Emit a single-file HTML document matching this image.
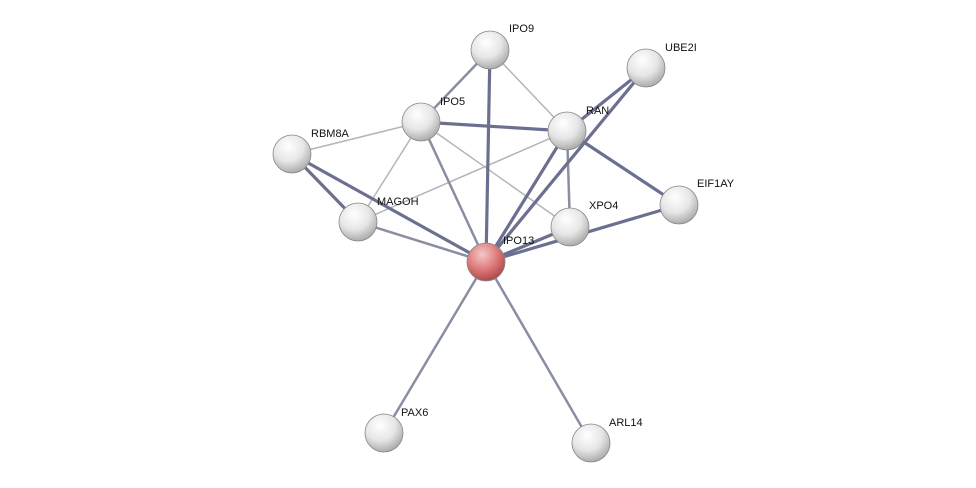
<!DOCTYPE html>
<html><head><meta charset="utf-8"><style>
html,body{margin:0;padding:0;background:#fff;}
svg{display:block;}
text{font-family:"Liberation Sans",sans-serif;font-size:11px;fill:#111;}
</style></head><body>
<svg width="976" height="488" viewBox="0 0 976 488">
<defs>
<radialGradient id="g" cx="0.4" cy="0.3" r="0.8">
<stop offset="0" stop-color="#ffffff"/><stop offset="0.5" stop-color="#e6e6e6"/><stop offset="1" stop-color="#9a9a9a"/>
</radialGradient>
<radialGradient id="r" cx="0.4" cy="0.3" r="0.8">
<stop offset="0" stop-color="#f6c8c8"/><stop offset="0.5" stop-color="#dd7a7a"/><stop offset="1" stop-color="#a03a3a"/>
</radialGradient>
</defs>
<g stroke-linecap="round">
<!-- light edges -->
<g stroke="#b4b4be" stroke-width="1.5">
<line x1="490" y1="50" x2="567" y2="131"/>
<line x1="421" y1="122" x2="292" y2="154"/>
<line x1="421" y1="122" x2="358" y2="222"/>
<line x1="421" y1="122" x2="570" y2="227"/>
<line x1="567" y1="131" x2="358" y2="222"/>
</g>
<g stroke="#8a8ea3" stroke-width="2.5">
<line x1="490" y1="50" x2="421" y2="122"/>
<line x1="567" y1="131" x2="570" y2="227"/>
<line x1="486" y1="262" x2="421" y2="122"/>
<line x1="486" y1="262" x2="358" y2="222"/>
<line x1="486" y1="262" x2="384" y2="433"/>
<line x1="486" y1="262" x2="591" y2="443"/>
</g>
<g stroke="#6b7090" stroke-width="3.2">
<line x1="421" y1="122" x2="567" y2="131"/>
<line x1="490" y1="50" x2="486" y2="262"/>
<line x1="567" y1="131" x2="646" y2="68"/>
<line x1="646" y1="68" x2="486" y2="262"/>
<line x1="567" y1="131" x2="486" y2="262"/>
<line x1="567" y1="131" x2="679" y2="205"/>
<line x1="292" y1="154" x2="358" y2="222"/>
<line x1="292" y1="154" x2="486" y2="262"/>
<line x1="570" y1="227" x2="486" y2="262"/>
<line x1="679" y1="205" x2="486" y2="262"/>
</g>
</g>
<g stroke="#888" stroke-width="0.8">
<circle cx="490" cy="50" r="19" fill="url(#g)"/>
<circle cx="646" cy="68" r="19" fill="url(#g)"/>
<circle cx="421" cy="122" r="19" fill="url(#g)"/>
<circle cx="567" cy="131" r="19" fill="url(#g)"/>
<circle cx="292" cy="154" r="19" fill="url(#g)"/>
<circle cx="358" cy="222" r="19" fill="url(#g)"/>
<circle cx="570" cy="227" r="19" fill="url(#g)"/>
<circle cx="679" cy="205" r="19" fill="url(#g)"/>
<circle cx="486" cy="262" r="19" fill="url(#r)"/>
<circle cx="384" cy="433" r="19" fill="url(#g)"/>
<circle cx="591" cy="443" r="19" fill="url(#g)"/>
</g>
<text x="509" y="32">IPO9</text>
<text x="665" y="51">UBE2I</text>
<text x="440" y="105">IPO5</text>
<text x="586" y="114">RAN</text>
<text x="311" y="137">RBM8A</text>
<text x="377" y="205">MAGOH</text>
<text x="589" y="209">XPO4</text>
<text x="697" y="187">EIF1AY</text>
<text x="503" y="244">IPO13</text>
<text x="401" y="416">PAX6</text>
<text x="609" y="426">ARL14</text>
</svg>
</body></html>
